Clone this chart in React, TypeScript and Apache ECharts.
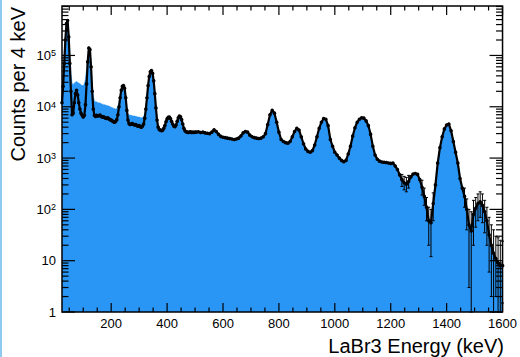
import React, { useEffect, useRef } from 'react';
import * as echarts from 'echarts';

const X_MIN = 24;
const X_MAX = 1600;
const Y_MIN = 1;
const Y_MAX = 920000;
const LOW_START = 24;
const LOW_STEP = 4;
const HIGH_START = 504;
const HIGH_STEP = 8;

// measured counts (black points), 24..500 keV every 4 keV
const dataLow = [
  12000, 25000, 70000, 200000, 420000, 480000, 230000, 70000, 20000, 7000,
  7500, 12000, 18000, 21000, 17000, 12000, 9000, 7500, 6800, 6300,
  6800, 11000, 28000, 75000, 140000, 130000, 60000, 20000, 9000, 6800,
  6500, 6800, 6600, 6700, 6900, 6500, 6300, 6400, 6200, 6000,
  5900, 6100, 5800, 5600, 5500, 5300, 5100, 5000, 5200, 5600,
  7000, 10000, 15000, 21000, 25000, 26000, 23000, 15000, 8500, 5500,
  4700, 4500, 4600, 4700, 4500, 4400, 4500, 4300, 4200, 4300,
  4100, 4000, 4200, 4600, 6000, 9000, 15000, 26000, 39000, 48000,
  51000, 45000, 32000, 18000, 9500, 5500, 4000, 3600, 3500, 3400,
  3500, 3800, 4300, 5100, 5800, 6200, 6300, 5900, 5200, 4600,
  4200, 4100, 4400, 5200, 6100, 6600, 6400, 5600, 4600, 3800,
  3400, 3250, 3200, 3150, 3200, 3250, 3150, 3200, 3150, 3200,
];

// simulated spectrum (blue fill), 24..500 keV every 4 keV
const simLow = [
  20000, 40000, 110000, 260000, 450000, 500000, 300000, 110000, 45000, 29000,
  27000, 29000, 30000, 31000, 30000, 29000, 28000, 27000, 26000, 26000,
  28000, 35000, 55000, 95000, 150000, 140000, 70000, 30000, 16000, 13000,
  12500, 12500, 12000, 12000, 11800, 11500, 11300, 11000, 11000, 10800,
  10600, 10500, 10300, 10000, 9800, 9600, 9400, 9200, 9000, 9200,
  10000, 12500, 17000, 22000, 26000, 27000, 24000, 16500, 10000, 7500,
  6900, 6800, 6800, 6700, 6600, 6600, 6500, 6400, 6300, 6300,
  6200, 6100, 6200, 6400, 7500, 10000, 16000, 27000, 40000, 49000,
  52000, 46000, 33000, 19000, 10000, 6000, 4300, 3800, 3600, 3500,
  3600, 3900, 4400, 5200, 5900, 6300, 6400, 6000, 5300, 4700,
  4300, 4200, 4500, 5300, 6200, 6700, 6500, 5700, 4700, 3900,
  3450, 3300, 3250, 3200, 3250, 3300, 3200, 3250, 3200, 3250,
];

// counts above 500 keV (data and simulation agree), 504..1600 keV every 8 keV
const dataHigh = [
  3200, 3250, 3150, 3200, 3100, 3050, 3000, 3200, 3550, 3300,
  2900, 2650, 2550, 2500, 2450, 2400, 2350, 2300, 2350, 2450,
  2700, 3100, 3300, 3200, 2800, 2600, 2500, 2450, 2400, 2450,
  2600, 3000, 4500, 7000, 8500, 7500, 5000, 3200, 2300, 2100,
  2000, 1950, 2100, 2600, 3300, 3800, 3500, 2600, 1900, 1500,
  1350, 1300, 1400, 1800, 2600, 3800, 5000, 5900, 5700, 4300,
  2300, 1700, 1300, 1150, 1000, 900, 850, 900, 1200, 1700,
  2700, 3900, 5000, 5700, 6100, 6000, 5300, 4300, 2900, 1700,
  1150, 950, 870, 840, 830, 820, 800, 790, 800, 700,
  600, 470, 380, 330, 310, 350, 430, 490, 500, 480,
  380, 270, 180, 110, 60, 55, 130, 300, 800, 1600,
  2600, 3700, 4400, 4600, 3400, 2100, 1300, 800, 400, 260,
  180, 100, 50, 38, 80, 105, 130, 140, 120, 90,
  60, 32, 20, 14, 11, 9, 8, 8,
];

// visible error bars: [energy, low, high]
const errorBars = [
  [1240, 280, 480], [1248, 240, 440], [1256, 220, 420], [1264, 260, 460],
  [1312, 190, 370], [1320, 120, 260], [1328, 60, 170], [1336, 20, 110],
  [1344, 12, 100], [1352, 60, 210], [1464, 110, 260], [1472, 40, 160],
  [1480, 3, 100], [1488, 1, 90], [1496, 20, 150], [1504, 45, 170],
  [1512, 60, 200], [1520, 70, 220], [1528, 55, 200], [1536, 35, 150],
  [1544, 20, 110], [1552, 6, 70], [1560, 2, 50], [1568, 1, 40],
  [1576, 2, 30], [1584, 1, 28], [1592, 1, 25], [1600, 1.5, 24],
];

const xMajorTicks = [200, 400, 600, 800, 1000, 1200, 1400, 1600];
const xMinorTicks = [50, 100, 150, 250, 300, 350, 450, 500, 550, 650, 700, 750, 850, 900, 950,
  1050, 1100, 1150, 1250, 1300, 1350, 1450, 1500, 1550];
const yMajorTicks = [1, 10, 100, 1000, 10000, 100000];
const yMinorTicks = [2, 3, 4, 5, 6, 7, 8, 9, 20, 30, 40, 50, 60, 70, 80, 90,
  200, 300, 400, 500, 600, 700, 800, 900, 2000, 3000, 4000, 5000, 6000, 7000, 8000, 9000,
  20000, 30000, 40000, 50000, 60000, 70000, 80000, 90000,
  200000, 300000, 400000, 500000, 600000, 700000, 800000, 900000];

const X_TITLE = 'LaBr3 Energy (keV)';
const Y_TITLE = 'Counts per 4 keV';

const BLUE = '#2995f4';
const FONT = "'Liberation Sans', Arial, Helvetica, sans-serif";

function buildOption(): any {
  const dataPts = [
    ...dataLow.map((v, i) => [LOW_START + i * LOW_STEP, v]),
    ...dataHigh.map((v, i) => [HIGH_START + i * HIGH_STEP, v]),
  ];
  const simPts = [
    ...simLow.map((v, i) => [LOW_START + i * LOW_STEP, v]),
    ...dataHigh.map((v, i) => [HIGH_START + i * HIGH_STEP, v]),
  ];

  const superscript = (v: number) => {
    const n = Math.round(Math.log10(v));
    if (n === 0) return '1';
    if (n === 1) return '10';
    return `{b|10}{s|${n}}`;
  };

  return {
    animation: false,
    backgroundColor: '#fff',
    grid: { left: 62, top: 6, right: 14, bottom: 45, containLabel: false },
    xAxis: {
      type: 'value',
      min: X_MIN,
      max: X_MAX,
      splitNumber: 8,
      axisLine: { show: false },
      axisTick: { show: false },
      splitLine: { show: false },
      axisLabel: {
        showMinLabel: false,
        showMaxLabel: true,
        color: '#000',
        fontSize: 13,
        fontFamily: FONT,
        margin: 5,
        formatter: (v: number) => String(Math.round(v)),
      },
    },
    yAxis: {
      type: 'log',
      logBase: 10,
      min: Y_MIN,
      max: Y_MAX,
      axisLine: { show: false },
      axisTick: { show: false },
      splitLine: { show: false },
      axisLabel: {
        showMaxLabel: false,
        color: '#000',
        fontSize: 13,
        fontFamily: FONT,
        margin: 6,
        formatter: superscript,
        rich: {
          b: { fontSize: 13, fontFamily: FONT, color: '#000' },
          s: { fontSize: 9, fontFamily: FONT, color: '#000', verticalAlign: 'top' },
        },
      },
    },
    graphic: [
      {
        type: 'text',
        x: 504,
        y: 346,
        style: { text: X_TITLE, fontSize: 20, fontFamily: FONT, fill: '#000', align: 'right', verticalAlign: 'middle' },
      },
      {
        type: 'text',
        x: 18,
        y: 7,
        rotation: Math.PI / 2,
        style: { text: Y_TITLE, fontSize: 20, fontFamily: FONT, fill: '#000', align: 'right', verticalAlign: 'middle' },
      },
    ],
    series: [
      {
        name: 'sim',
        type: 'line',
        data: simPts,
        symbol: 'none',
        lineStyle: { width: 0.5, color: BLUE },
        areaStyle: { color: BLUE, opacity: 1, origin: 'start' },
        z: 2,
        silent: true,
      },
      {
        name: 'data',
        type: 'line',
        data: dataPts,
        symbol: 'circle',
        symbolSize: 3.6,
        showAllSymbol: true,
        itemStyle: { color: '#000' },
        lineStyle: { width: 2.2, color: '#000' },
        z: 3,
        silent: true,
      },
      {
        name: 'errors',
        type: 'custom',
        data: errorBars,
        encode: { x: 0, y: [1, 2] },
        z: 4,
        silent: true,
        renderItem: (_params: any, api: any) => {
          const e = api.value(0);
          const p1 = api.coord([e, api.value(1)]);
          const p2 = api.coord([e, api.value(2)]);
          const st = { stroke: '#000', lineWidth: 1 };
          return {
            type: 'group',
            children: [
              { type: 'line', shape: { x1: p1[0], y1: p1[1], x2: p2[0], y2: p2[1] }, style: st },
              { type: 'line', shape: { x1: p1[0] - 1.5, y1: p1[1], x2: p1[0] + 1.5, y2: p1[1] }, style: st },
              { type: 'line', shape: { x1: p2[0] - 1.5, y1: p2[1], x2: p2[0] + 1.5, y2: p2[1] }, style: st },
            ],
          };
        },
      },
      {
        name: 'frame',
        type: 'custom',
        data: [[X_MIN, Y_MIN]],
        z: 10,
        silent: true,
        renderItem: (params: any, api: any) => {
          const cs = params.coordSys;
          const top = cs.y;
          const bottom = cs.y + cs.height;
          const left = cs.x;
          const right = cs.x + cs.width;
          const st = { stroke: '#000', lineWidth: 1.2 };
          const children: any[] = [];
          const add = (x1: number, y1: number, x2: number, y2: number) =>
            children.push({ type: 'line', shape: { x1, y1, x2, y2 }, style: st });
          xMajorTicks.forEach((t) => {
            const x = api.coord([t, Y_MIN])[0];
            add(x, bottom, x, bottom - 9);
            add(x, top, x, top + 9);
          });
          xMinorTicks.forEach((t) => {
            const x = api.coord([t, Y_MIN])[0];
            add(x, bottom, x, bottom - 4.5);
            add(x, top, x, top + 4.5);
          });
          yMajorTicks.forEach((t) => {
            const y = api.coord([X_MIN, t])[1];
            add(left, y, left + 13, y);
            add(right, y, right - 13, y);
          });
          yMinorTicks.forEach((t) => {
            if (t > Y_MAX) return;
            const y = api.coord([X_MIN, t])[1];
            add(left, y, left + 6.5, y);
            add(right, y, right - 6.5, y);
          });
          children.push({
            type: 'rect',
            shape: { x: left, y: top, width: right - left, height: bottom - top },
            style: { fill: 'none', stroke: '#000', lineWidth: 1.5 },
          });
          return { type: 'group', children };
        },
      },
    ],
  };
}

export default function App() {
  const ref = useRef<HTMLDivElement>(null);
  useEffect(() => {
    if (!ref.current) return;
    const chart = echarts.init(ref.current, undefined, { renderer: 'svg' });
    chart.setOption(buildOption());
    return () => chart.dispose();
  }, []);
  return (
    <div style={{ position: 'fixed', left: 0, top: 0, width: 520, height: 357, background: '#fff' }}>
      <div ref={ref} style={{ width: 520, height: 357 }} />
      <div style={{ position: 'absolute', left: 0, top: 0, width: 2, height: 357, background: '#8fcaf0' }} />
    </div>
  );
}
